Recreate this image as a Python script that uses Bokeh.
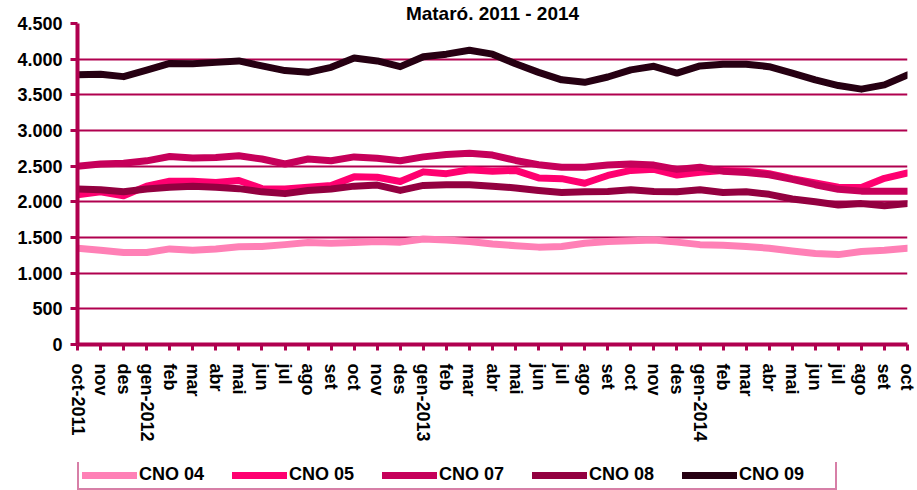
from bokeh.plotting import figure
from bokeh.layouts import column
from bokeh.models import Legend, LegendItem, FixedTicker, Range1d
from bokeh.embed import file_html
from bokeh.resources import INLINE

# ---------------- data ----------------
months = ["oct-2011", "nov", "des", "gen-2012", "feb", "mar", "abr", "mai", "jun", "jul", "ago", "set",
          "oct", "nov", "des", "gen-2013", "feb", "mar", "abr", "mai", "jun", "jul", "ago", "set",
          "oct", "nov", "des", "gen-2014", "feb", "mar", "abr", "mai", "jun", "jul", "ago", "set", "oct"]

cno04 = [1350, 1320, 1290, 1290, 1340, 1320, 1340, 1370, 1375, 1400, 1430, 1420, 1430, 1445, 1435, 1480,
         1465, 1445, 1410, 1385, 1365, 1375, 1420, 1445, 1455, 1465, 1435, 1400, 1390, 1375, 1350, 1310,
         1275, 1260, 1305, 1320, 1350]
cno05 = [2100, 2140, 2085, 2220, 2290, 2290, 2270, 2300, 2185, 2180, 2205, 2230, 2350, 2345, 2285, 2420,
         2395, 2450, 2430, 2440, 2335, 2325, 2260, 2370, 2440, 2455, 2375, 2415, 2440, 2430, 2395, 2325,
         2265, 2205, 2200, 2330, 2405]
cno07 = [2500, 2530, 2540, 2575, 2635, 2615, 2620, 2645, 2600, 2530, 2600, 2575, 2630, 2610, 2575, 2630,
         2665, 2680, 2655, 2580, 2520, 2485, 2485, 2515, 2530, 2515, 2455, 2485, 2430, 2410, 2380, 2315,
         2240, 2175, 2150, 2150, 2150]
cno08 = [2180, 2170, 2140, 2180, 2205, 2220, 2205, 2185, 2140, 2115, 2160, 2180, 2220, 2235, 2160, 2230,
         2240, 2240, 2220, 2195, 2160, 2130, 2140, 2145, 2170, 2145, 2140, 2170, 2130, 2140, 2105, 2040,
         2000, 1955, 1975, 1945, 1975]
cno09 = [3780, 3790, 3755, 3845, 3940, 3935, 3955, 3975, 3905, 3840, 3815, 3885, 4015, 3975, 3895, 4035,
         4070, 4125, 4070, 3935, 3815, 3710, 3675, 3750, 3850, 3900, 3805, 3905, 3930, 3930, 3895, 3805,
         3710, 3630, 3580, 3640, 3780]

series_names = ["CNO 04", "CNO 05", "CNO 07", "CNO 08", "CNO 09"]
series_values = [cno04, cno05, cno07, cno08, cno09]
series_colors = ["#FF80B6", "#FF0070", "#C6005A", "#930040", "#260012"]

y_ticks = [0, 500, 1000, 1500, 2000, 2500, 3000, 3500, 4000, 4500]
y_tick_labels = ["0", "500", "1.000", "1.500", "2.000", "2.500", "3.000", "3.500", "4.000", "4.500"]

title_text = "Mataró. 2011 - 2014"

# ---------------- styling ----------------
CRIMSON = "#B0004F"
FONT = "Liberation Sans"
W = 916

x = list(range(len(months)))

p = figure(width=W, height=462, output_backend="svg", toolbar_location=None,
           x_range=Range1d(0, len(months) - 1), y_range=Range1d(0, 4500),
           min_border_left=77, min_border_right=9, min_border_top=20, min_border_bottom=118)
p.outline_line_color = None
p.background_fill_color = "white"
p.border_fill_color = "white"

p.title.text = title_text
p.title.align = "center"
p.title.offset = -9
p.title.standoff = 0
p.title.text_font = FONT
p.title.text_font_style = "bold"
p.title.text_font_size = "19px"
p.title.text_color = "black"
p.title.text_line_height = 0.8

# grid
p.xgrid.grid_line_color = None
p.ygrid.ticker = FixedTicker(ticks=y_ticks)
p.ygrid.grid_line_color = CRIMSON
p.ygrid.grid_line_width = 2

# axes
p.yaxis.ticker = FixedTicker(ticks=y_ticks)
p.yaxis.major_label_overrides = {t: l for t, l in zip(y_ticks, y_tick_labels)}
p.xaxis.ticker = FixedTicker(ticks=x)
p.xaxis.major_label_overrides = {i: m for i, m in zip(x, months)}
p.xaxis.major_label_orientation = "vertical"

for ax in (p.xaxis[0], p.yaxis[0]):
    ax.axis_line_color = CRIMSON
    ax.axis_line_width = 4
    ax.major_tick_line_color = CRIMSON
    ax.major_tick_line_width = 3
    ax.major_tick_in = 0
    ax.minor_tick_line_color = None
    ax.major_label_text_font = FONT
    ax.major_label_text_font_style = "bold"
    ax.major_label_text_font_size = "18px"
    ax.major_label_text_color = "black"
p.yaxis.major_tick_out = 7
p.yaxis.major_label_standoff = 8
p.xaxis.major_tick_out = 6
p.xaxis.major_label_standoff = 13

# lines
for vals, col in zip(series_values, series_colors):
    p.line(x, vals, line_color=col, line_width=7, line_join="round", line_cap="round")

# ---------------- legend strip (separate figure, same series) ----------------
p2 = figure(width=W, height=28, output_backend="svg", toolbar_location=None,
            x_range=Range1d(0, len(months) - 1), y_range=Range1d(-2, -1),
            x_axis_location=None, y_axis_location=None,
            min_border_left=77, min_border_right=9, min_border_top=0, min_border_bottom=0)
p2.outline_line_color = None
p2.xgrid.grid_line_color = None
p2.ygrid.grid_line_color = None
p2.background_fill_color = "white"
p2.border_fill_color = "white"

items = []
for name, vals, col in zip(series_names, series_values, series_colors):
    r = p2.line(x, vals, line_color=col, line_width=7, line_join="round", line_cap="round")
    items.append(LegendItem(label=name, renderers=[r]))

legend = Legend(items=items, orientation="horizontal", location=(0, 0),
                glyph_width=55, glyph_height=14, label_height=14, label_width=93,
                label_standoff=2, spacing=0, padding=3, margin=0,
                label_text_font=FONT, label_text_font_style="bold", label_text_font_size="18px",
                label_text_color="black",
                border_line_color=CRIMSON, border_line_width=2,
                background_fill_color="white", background_fill_alpha=1)
p2.add_layout(legend)

layout = column(p, p2, spacing=0)
open("out.html", "w").write(file_html(layout, INLINE))
